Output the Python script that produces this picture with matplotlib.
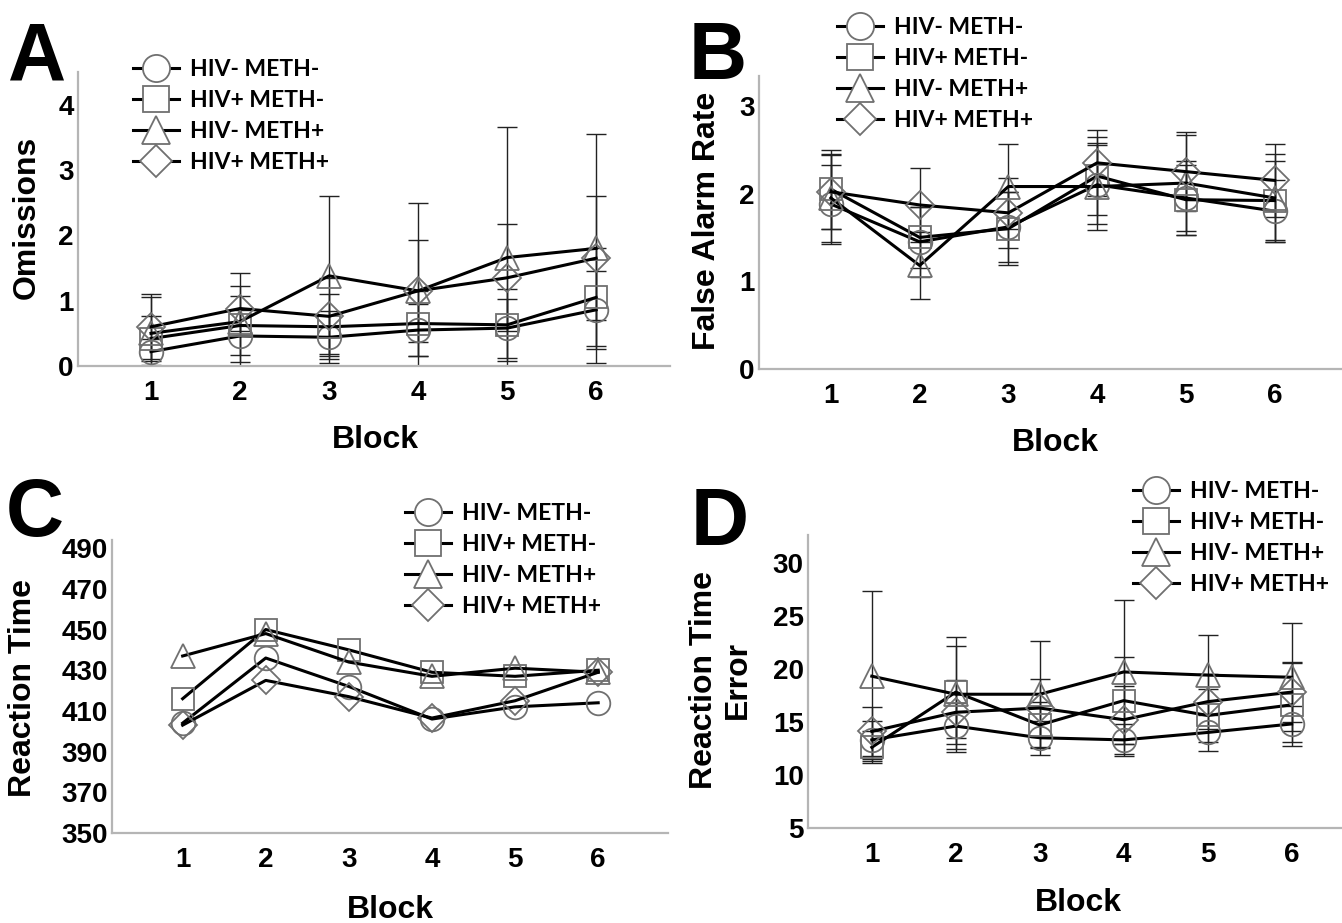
import matplotlib
matplotlib.use('Agg')
import matplotlib.pyplot as plt
from matplotlib.lines import Line2D

plt.rcParams['font.family'] = ['Liberation Sans', 'DejaVu Sans']
plt.rcParams['font.weight'] = 'bold'

blocks = [1, 2, 3, 4, 5, 6]
groups = ['HIV- METH-', 'HIV+ METH-', 'HIV- METH+', 'HIV+ METH+']

# A: omissions (mean and error)
omis_nn = [0.22, 0.46, 0.44, 0.55, 0.58, 0.86]
omis_pn = [0.42, 0.62, 0.60, 0.65, 0.63, 1.05]
omis_np = [0.50, 0.68, 1.38, 1.15, 1.66, 1.80]
omis_pp = [0.60, 0.88, 0.76, 1.15, 1.35, 1.65]
omis_err_nn = [0.20, 0.40, 0.40, 0.40, 0.45, 0.60]
omis_err_pn = [0.35, 0.45, 0.50, 0.50, 0.55, 0.75]
omis_err_np = [0.55, 0.75, 1.22, 1.35, 2.00, 1.75]
omis_err_pp = [0.50, 0.35, 0.58, 0.78, 0.82, 0.95]

# B: false alarm rate
fa_nn = [1.88, 1.45, 1.62, 2.10, 1.95, 1.80]
fa_pn = [2.05, 1.50, 1.60, 2.20, 1.93, 1.92]
fa_np = [1.95, 1.18, 2.08, 2.08, 2.12, 1.95]
fa_pp = [2.02, 1.87, 1.78, 2.35, 2.25, 2.15]
fa_err_nn = [0.45, 0.40, 0.40, 0.45, 0.42, 0.35]
fa_err_pn = [0.45, 0.35, 0.42, 0.45, 0.40, 0.45]
fa_err_np = [0.50, 0.38, 0.48, 0.50, 0.55, 0.50]
fa_err_pp = [0.42, 0.42, 0.40, 0.38, 0.45, 0.42]

# C: reaction time
rt_nn = [404, 436, 422, 406, 412, 414]
rt_pn = [416, 450, 440, 429, 427, 430]
rt_np = [437, 448, 434, 427, 431, 429]
rt_pp = [403, 425, 417, 406.5, 415, 429]

# D: reaction time error
rte_nn = [13.3, 14.6, 13.5, 13.3, 14.0, 14.8]
rte_pn = [12.6, 17.8, 14.7, 17.0, 15.6, 16.6]
rte_np = [19.3, 17.6, 17.6, 19.7, 19.4, 19.2]
rte_pp = [14.1, 15.9, 16.3, 15.2, 16.9, 17.8]
rte_err_nn = [1.8, 2.2, 1.6, 1.5, 1.7, 1.7]
rte_err_pn = [1.5, 4.3, 2.2, 4.1, 2.5, 3.9]
rte_err_np = [8.0, 5.4, 5.0, 6.8, 3.8, 5.1]
rte_err_pp = [2.3, 3.0, 2.7, 3.2, 2.6, 2.8]

markers = ['o', 's', '^', 'D']
msizes = [17, 16, 17, 14]

W, H = 1342, 923
fig = plt.figure(figsize=(W / 100, H / 100), dpi=100)


def px_axes(left, right, bottom, top):
    # pixel box -> figure fraction
    return fig.add_axes([left / W, 1 - bottom / H, (right - left) / W, (bottom - top) / H])


def draw_panel(ax, series, errs, xlim, ylim, yticks):
    for i, ys in enumerate(series):
        if errs is not None:
            ax.errorbar(blocks, ys, yerr=errs[i], fmt='none', ecolor='#222222',
                        elinewidth=1.0, capsize=7, capthick=1.0, zorder=2)
        ax.plot(blocks, ys, color='black', lw=2.2, marker=markers[i], ms=msizes[i],
                mfc='none', mec='#707070', mew=1.3, zorder=3)
    ax.set_xlim(*xlim)
    ax.set_ylim(*ylim)
    ax.set_xticks(blocks)
    ax.set_yticks(yticks)
    ax.tick_params(length=0, labelsize=20)
    ax.tick_params(axis='x', pad=10)
    ax.tick_params(axis='y', pad=3)
    for s in ['top', 'right']:
        ax.spines[s].set_visible(False)
    for s in ['left', 'bottom']:
        ax.spines[s].set_color('#b5b5b5')
        ax.spines[s].set_linewidth(1.6)


def add_legend(ax, left, center_y):
    # white-filled markers so the handle line shows only either side
    handles = [Line2D([], [], color='black', lw=2.2, marker=markers[i],
                      ms=msizes[i] * 1.15, mfc='white', mec='#707070', mew=1.3)
               for i in range(4)]
    ax.legend(handles, groups, loc='center left',
              bbox_to_anchor=(left / W, 1 - center_y / H),
              bbox_transform=fig.transFigure, frameon=False, borderpad=0,
              borderaxespad=0, handlelength=2.0, handletextpad=0.5,
              labelspacing=0.45,
              prop={'family': 'Lato', 'weight': 'bold', 'size': 16.5})


def label(x, y, txt, size=23, rot=0):
    fig.text(x / W, 1 - y / H, txt, ha='center', va='center', rotation=rot,
             fontsize=size, fontweight='bold')


# Panel A
axA = px_axes(78, 670, 366, 72)
draw_panel(axA, [omis_nn, omis_pn, omis_np, omis_pp],
           [omis_err_nn, omis_err_pn, omis_err_np, omis_err_pp],
           (0.18, 6.83), (0, 4.5), [0, 1, 2, 3, 4])
add_legend(axA, 133, 116)
label(27, 217, 'Omissions', rot=90)
label(375, 440, 'Block')
label(37, 58, 'A', size=58)

# Panel B
axB = px_axes(759, 1342, 369, 76)
draw_panel(axB, [fa_nn, fa_pn, fa_np, fa_pp],
           [fa_err_nn, fa_err_pn, fa_err_np, fa_err_pp],
           (0.19, 6.76), (0, 3.34), [0, 1, 2, 3])
add_legend(axB, 837, 74)
label(707, 221, 'False Alarm Rate', rot=90)
label(1055, 443, 'Block')
label(718, 58, 'B', size=58)

# Panel C
axC = px_axes(112, 668, 833, 540)
draw_panel(axC, [rt_nn, rt_pn, rt_np, rt_pp], None,
           (0.15, 6.84), (350, 494), list(range(350, 491, 20)))
add_legend(axC, 405, 560)
label(23, 688, 'Reaction Time', rot=90)
label(390, 910, 'Block')
label(35, 515, 'C', size=58)

# Panel D
axD = px_axes(808, 1342, 828, 535)
draw_panel(axD, [rte_nn, rte_pn, rte_np, rte_pp],
           [rte_err_nn, rte_err_pn, rte_err_np, rte_err_pp],
           (0.24, 6.60), (5, 32.6), [5, 10, 15, 20, 25, 30])
add_legend(axD, 1133, 538)
label(721, 680, 'Reaction Time\nError', rot=90)
label(1078, 903, 'Block')
label(720, 524, 'D', size=58)

fig.savefig('out.png', dpi=100)
